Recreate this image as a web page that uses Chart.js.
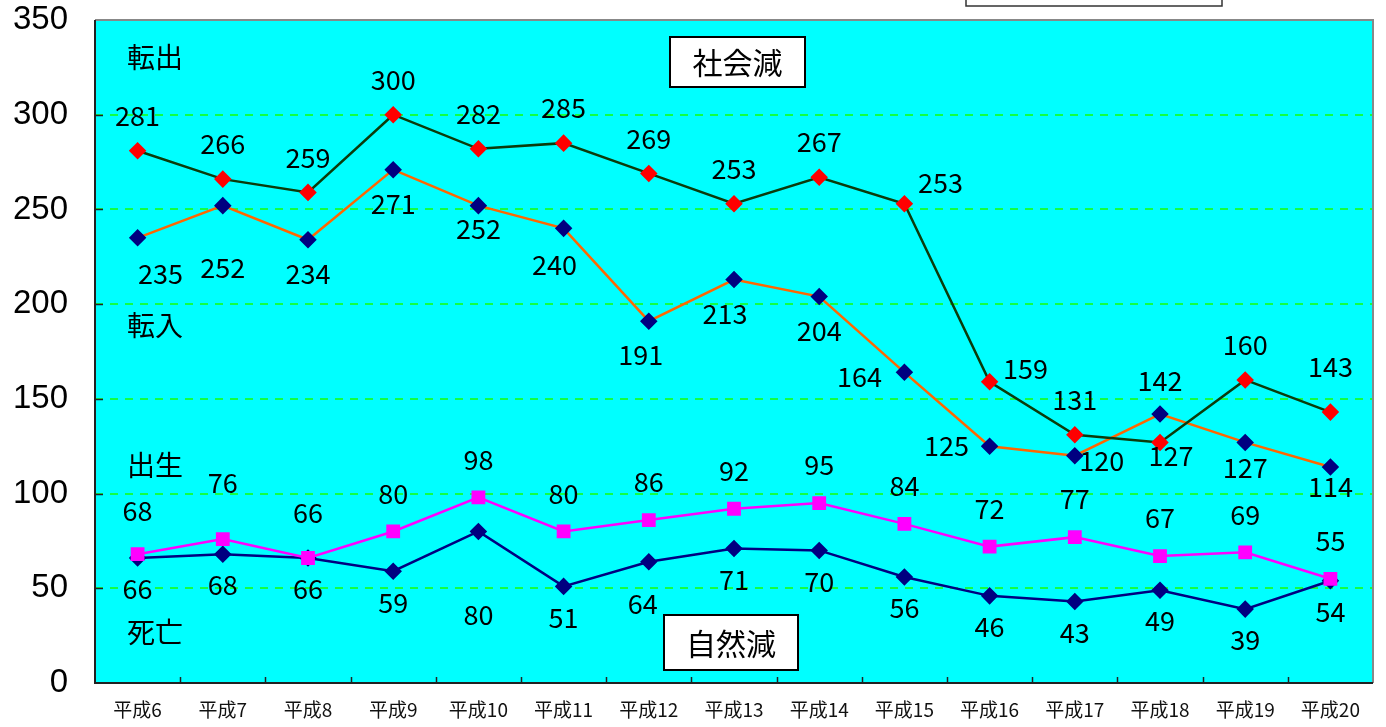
<!DOCTYPE html>
<html>
<head>
<meta charset="utf-8">
<script src="https://cdn.jsdelivr.net/npm/chart.js@4/dist/chart.umd.min.js"></script>
<style>
    html, body { margin: 0; padding: 0; background: #fff; }
    #wrap { width: 1386px; height: 727px; }
</style>
</head>
<body>
<div id="wrap"><canvas id="chart"></canvas></div>
<script>
var years = ['平成6', '平成7', '平成8', '平成9', '平成10', '平成11', '平成12', '平成13',
    '平成14', '平成15', '平成16', '平成17', '平成18', '平成19', '平成20'];
var tenshutsu = [281, 266, 259, 300, 282, 285, 269, 253, 267, 253, 159, 131, 127, 160, 143];
var tennyu = [235, 252, 234, 271, 252, 240, 191, 213, 204, 164, 125, 120, 142, 127, 114];
var shussei = [68, 76, 66, 80, 98, 80, 86, 92, 95, 84, 72, 77, 67, 69, 55];
var shibou = [66, 68, 66, 59, 80, 51, 64, 71, 70, 56, 46, 43, 49, 39, 54];
var yTicks = [0, 50, 100, 150, 200, 250, 300, 350];

var FONT = '"Noto Sans CJK JP", "Liberation Sans", sans-serif';

// label offsets (dx, dy) from the point; default per dataset, plus a few hand placed ones
var labelPlace = [
    { dy: -35, extra: { 9: [36, -21], 10: [36, -13], 12: [11, 13], 14: [0, -45] } },
    { dy: 34, extra: { 0: [23, 36], 1: [0, 62], 4: [0, 23], 5: [-9, 36], 6: [-8, 34], 7: [-9, 34],
        9: [-45, 4], 10: [-43, 0], 11: [27, 5], 12: [0, -33], 13: [0, 25], 14: [0, 20] } },
    { dy: -38, extra: { 1: [0, -56], 0: [0, -43], 2: [0, -45] } },
    { dy: 31, extra: { 4: [0, 83], 6: [-6, 42] } }
];

// side notes and boxes
var notes = [
    { text: '転出', x: 155, y: 57 },
    { text: '転入', x: 155, y: 325 },
    { text: '出生', x: 155, y: 465 },
    { text: '死亡', x: 155, y: 632 }
];
var boxes = [
    { text: '社会減', x1: 670, y1: 37, x2: 805, y2: 87 },
    { text: '自然減', x1: 664, y1: 615, x2: 798, y2: 670 }
];

var plotDeco = {
    id: 'plotDeco',
    beforeDraw: function (chart) {
        var a = chart.chartArea, ctx = chart.ctx;
        ctx.save();
        ctx.fillStyle = '#00ffff';
        ctx.fillRect(a.left, a.top, a.right - a.left, a.bottom - a.top);
        ctx.restore();
    },
    beforeDatasetsDraw: function (chart) {
        var a = chart.chartArea, ctx = chart.ctx;
        var y = chart.scales.y;
        ctx.save();
        // dashed gridlines
        ctx.strokeStyle = '#11ff44';
        ctx.lineWidth = 2;
        ctx.setLineDash([8, 7]);
        for (var g = 1; g < yTicks.length - 1; g++) {
            var gy = Math.round(y.getPixelForValue(yTicks[g]));
            ctx.beginPath(); ctx.moveTo(a.left, gy); ctx.lineTo(a.right, gy); ctx.stroke();
        }
        ctx.setLineDash([]);
        // border
        ctx.lineWidth = 2;
        ctx.strokeStyle = '#888';
        ctx.beginPath();
        ctx.moveTo(a.left, a.top); ctx.lineTo(a.right, a.top); ctx.lineTo(a.right, a.bottom);
        ctx.stroke();
        ctx.strokeStyle = '#222';
        ctx.beginPath();
        ctx.moveTo(a.left, a.top); ctx.lineTo(a.left, a.bottom); ctx.lineTo(a.right, a.bottom);
        ctx.stroke();
        // tick marks
        ctx.lineWidth = 1.5;
        var step = (a.right - a.left) / years.length;
        for (var i = 1; i < years.length; i++) {
            var tx = Math.round(a.left + step * i) + 0.5;
            ctx.beginPath(); ctx.moveTo(tx, a.bottom); ctx.lineTo(tx, a.bottom - 6); ctx.stroke();
        }
        for (var j = 1; j < yTicks.length - 1; j++) {
            var ty = Math.round(y.getPixelForValue(yTicks[j])) + 0.5;
            ctx.beginPath(); ctx.moveTo(a.left, ty); ctx.lineTo(a.left + 8, ty); ctx.stroke();
        }
        ctx.restore();
    },
    afterDatasetsDraw: function (chart) {
        var ctx = chart.ctx;
        ctx.save();
        ctx.fillStyle = '#000';
        ctx.textAlign = 'center';
        ctx.textBaseline = 'middle';
        ctx.font = '27px ' + FONT;
        chart.data.datasets.forEach(function (ds, di) {
            var meta = chart.getDatasetMeta(di);
            var pl = labelPlace[di];
            meta.data.forEach(function (pt, i) {
                var off = pl.extra[i] || [0, pl.dy];
                ctx.fillText(String(ds.data[i]), pt.x + off[0], pt.y + off[1]);
            });
        });

        ctx.font = '28px ' + FONT;
        notes.forEach(function (n) { ctx.fillText(n.text, n.x, n.y); });

        boxes.forEach(function (b) {
            ctx.fillStyle = '#fff';
            ctx.fillRect(b.x1, b.y1, b.x2 - b.x1, b.y2 - b.y1);
            ctx.strokeStyle = '#000';
            ctx.lineWidth = 2;
            ctx.strokeRect(b.x1, b.y1, b.x2 - b.x1, b.y2 - b.y1);
            ctx.fillStyle = '#000';
            ctx.font = '30px ' + FONT;
            ctx.fillText(b.text, (b.x1 + b.x2) / 2, (b.y1 + b.y2) / 2 + 1);
        });

        // cut-off legend box at top
        ctx.fillStyle = '#fff';
        ctx.fillRect(966, -2, 256, 8);
        ctx.strokeStyle = '#333';
        ctx.lineWidth = 1.5;
        ctx.strokeRect(966, -2, 256, 8);
        ctx.restore();
    }
};

var ctx = document.getElementById('chart');
var myChart = new Chart(ctx, {
    type: 'line',
    data: {
        labels: years,
        datasets: [
            {
                label: '転出',
                data: tenshutsu,
                borderColor: '#0b3b0b',
                borderWidth: 2.5,
                pointStyle: 'rectRot',
                pointRadius: 7,
                pointBackgroundColor: '#ff0000',
                pointBorderColor: '#ff0000',
                tension: 0
            },
            {
                label: '転入',
                data: tennyu,
                borderColor: '#ff6600',
                borderWidth: 2.5,
                pointStyle: 'rectRot',
                pointRadius: 7,
                pointBackgroundColor: '#000080',
                pointBorderColor: '#000080',
                tension: 0
            },
            {
                label: '出生',
                data: shussei,
                borderColor: '#ff00ff',
                borderWidth: 2.5,
                pointStyle: 'rect',
                pointRadius: 8,
                pointBackgroundColor: '#ff00ff',
                pointBorderColor: '#ff00ff',
                tension: 0
            },
            {
                label: '死亡',
                data: shibou,
                borderColor: '#000080',
                borderWidth: 2.5,
                pointStyle: 'rectRot',
                pointRadius: 7,
                pointBackgroundColor: '#000080',
                pointBorderColor: '#000080',
                tension: 0
            }
        ]
    },
    options: {
        responsive: true,
        maintainAspectRatio: false,
        animation: false,
        layout: { padding: { top: 20, right: 13, left: 0, bottom: 0 } },
        plugins: {
            legend: { display: false },
            tooltip: { enabled: false }
        },
        scales: {
            x: {
                offset: true,
                grid: { display: false, drawTicks: false },
                border: { display: false },
                ticks: {
                    color: '#111',
                    font: { family: FONT, size: 19 },
                    padding: 15,
                    maxRotation: 0,
                    autoSkip: false
                },
                afterFit: function (s) { s.height = 44; s.paddingLeft = 0; s.paddingRight = 0; }
            },
            y: {
                min: 0,
                max: 350,
                afterBuildTicks: function (s) {
                    s.ticks = yTicks.map(function (v) { return { value: v }; });
                },
                grid: { display: false, drawTicks: false },
                border: { display: false },
                ticks: {
                    color: '#000',
                    font: { family: '"Liberation Sans", Arial, sans-serif', size: 33 },
                    padding: 27
                },
                afterFit: function (s) { s.width = 95; s.paddingTop = 0; s.paddingBottom = 0; }
            }
        }
    },
    plugins: [plotDeco]
});
</script>
</body>
</html>
